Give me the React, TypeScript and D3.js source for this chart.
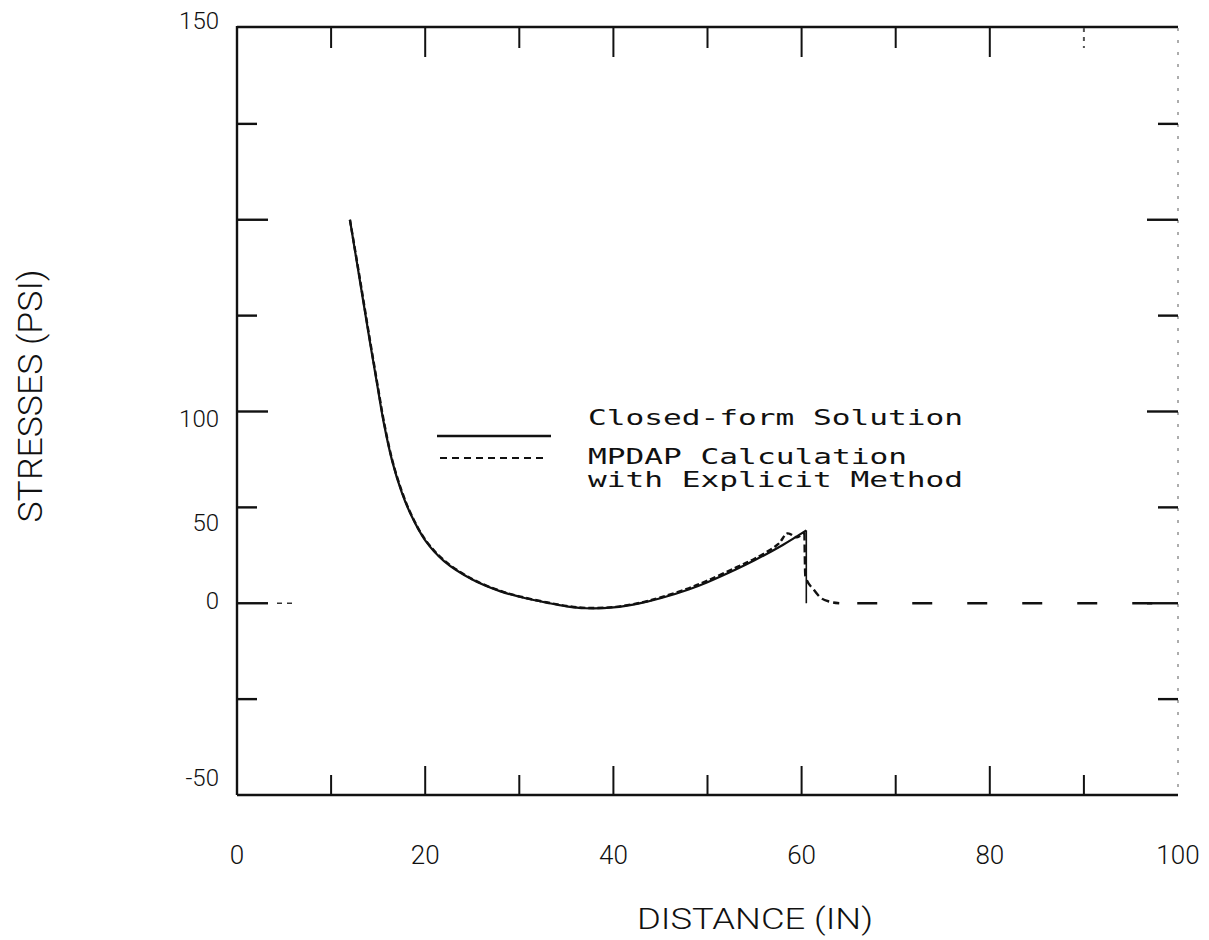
import React from "react";
import * as d3 from "d3";

// ---- data ----
const closedX = [12, 13, 14, 15, 15.6, 16.5, 17.5, 18.5, 20, 22, 25, 28, 30, 33, 35, 37, 40, 43, 45, 48, 50, 53, 55, 58, 60.5];
const closedY = [100, 85, 70, 55.5, 47, 37, 29, 23, 16.4, 11, 6.2, 3.1, 1.7, 0.1, -0.8, -1.3, -1.1, 0.1, 1.3, 3.6, 5.5, 8.8, 11.2, 15.2, 19];
const closedDropX = [60.5, 60.5];
const closedDropY = [19, 0];

const mpdapX = [12, 13, 14, 15, 15.6, 16.5, 17.5, 18.5, 20, 22, 25, 28, 30, 33, 35, 37, 40, 43, 45, 48, 50, 53, 55, 57.5, 58.5, 59.5, 60.3];
const mpdapY = [100, 85.5, 70.5, 56, 47.5, 37.3, 29.3, 23.2, 16.6, 11.2, 6.3, 3.2, 1.8, 0.2, -0.7, -1.2, -1.0, 0.2, 1.5, 3.9, 5.9, 9.3, 11.6, 15.4, 18.2, 17.2, 18.5];
const mpdapDropX = [60.3, 60.4, 61.3, 62, 63, 64];
const mpdapDropY = [18.5, 7, 3.5, 1.5, 0.4, 0];
const mpdapTailX = [64, 100];
const mpdapTailY = [0, 0];

const leftZeroX = [0, 6.2];
const leftZeroY = [0, 0];

const xTickValues = [0, 10, 20, 30, 40, 50, 60, 70, 80, 90, 100];
const xTickLabels = [0, 20, 40, 60, 80, 100];
const yTickValues = [-50, -25, 0, 25, 50, 75, 100, 125, 150];
const yTickLabels = [150, 100, 50, 0, -50];
// where the scanned labels actually sit (in data units of the y scale)
const yTickLabelAt = [152, 48.2, 21, 0.8, -45.5];

const legendItems = ["Closed-form Solution", "MPDAP Calculation", "with Explicit Method"];

const W = 1209, H = 940;
const M = { left: 237, right: 1178, top: 28, bottom: 795 };

export default function App() {
  const x = d3.scaleLinear().domain([0, 100]).range([M.left, M.right]);
  const y = d3.scaleLinear().domain([-50, 150]).range([M.bottom, M.top]);

  const mk = (xs: number[], ys: number[], curve: d3.CurveFactory = d3.curveLinear) =>
    d3.line<number>().curve(curve).x((d) => x(d)).y((_, i) => y(ys[i]))(xs) || "";

  const smooth = d3.curveCatmullRom.alpha(0.5);
  const closedPath = mk(closedX, closedY, smooth);
  const closedDrop = mk(closedDropX, closedDropY);
  const mpdapPath = mk(mpdapX, mpdapY, smooth);
  const mpdapDrop = mk(mpdapDropX, mpdapDropY, d3.curveMonotoneX);
  const mpdapTail = mk(mpdapTailX, mpdapTailY);
  const leftZero = mk(leftZeroX, leftZeroY);

  const font = "Roboto, 'DejaVu Sans', sans-serif";
  const mono = "'DejaVu Sans Mono', 'Liberation Mono', monospace";
  const ink = "#111";

  const isMajorX = (v: number) => v % 20 === 0;
  const isMajorY = (v: number) => v % 50 === 0;

  return (
    <svg width={W} height={H} style={{ display: "block", position: "absolute", left: 0, top: 0, background: "#fff" }}>
      <rect x={0} y={0} width={W} height={H} fill="#fff" />
      {/* frame */}
      <line x1={x(0)} x2={x(100)} y1={y(150) - 1} y2={y(150) - 1} stroke={ink} strokeWidth={2.6} />
      <line x1={x(0)} x2={x(0)} y1={y(150) - 2} y2={y(-50)} stroke={ink} strokeWidth={2.4} />
      <line x1={x(0)} x2={x(100)} y1={y(-50)} y2={y(-50)} stroke={ink} strokeWidth={2.6} />
      <line x1={x(100)} x2={x(100)} y1={y(150)} y2={y(-50)} stroke="#999" strokeWidth={1.6} strokeDasharray="3 9" />

      {/* x ticks */}
      {xTickValues.map((v) => {
        const L = isMajorX(v) ? 29 : 20;
        if (v === 0 || v === 100) return null;
        const faint = v === 90;
        return (
          <g key={"xt" + v}>
            <line x1={x(v)} x2={x(v)} y1={y(150)} y2={y(150) + L} stroke={faint ? "#555" : ink} strokeWidth={2} strokeDasharray={faint ? "4 5" : undefined} />
            <line x1={x(v)} x2={x(v)} y1={y(-50)} y2={y(-50) - L} stroke={ink} strokeWidth={2} />
          </g>
        );
      })}
      {/* y ticks */}
      {yTickValues.map((v) => {
        if (v === 150 || v === -50) return null;
        const L = isMajorY(v) ? 31 : 20;
        return (
          <g key={"yt" + v}>
            <line x1={x(0)} x2={x(0) + L} y1={y(v)} y2={y(v)} stroke={ink} strokeWidth={2.4} />
            <line x1={x(100)} x2={x(100) - L} y1={y(v)} y2={y(v)} stroke={ink} strokeWidth={2.4} />
          </g>
        );
      })}

      {/* tick labels */}
      {xTickLabels.map((v) => (
        <text key={"xl" + v} x={x(v)} y={864} textAnchor="middle" fontFamily={font} fontWeight={300} fontSize={26} fill={ink}>
          {v}
        </text>
      ))}
      {yTickLabels.map((v, i) => (
        <text key={"yl" + v} x={219} y={y(yTickLabelAt[i])} dy="0.35em" textAnchor="end" fontFamily={font} fontWeight={300} fontSize={24} fill={ink}>
          {v}
        </text>
      ))}

      {/* axis titles */}
      <text x={755} y={929} textAnchor="middle" fontFamily={font} fontWeight={300} fontSize={30} fill={ink} textLength={236} lengthAdjust="spacingAndGlyphs">
        DISTANCE (IN)
      </text>
      <text transform={`translate(42,${396}) rotate(-90)`} textAnchor="middle" fontFamily={font} fontWeight={300} fontSize={34} fill={ink} textLength={253} lengthAdjust="spacingAndGlyphs">
        STRESSES (PSI)
      </text>

      {/* curves */}
      <path d={leftZero} fill="none" stroke="#333" strokeWidth={1.5} strokeDasharray="0 40 5 5 5 20" />
      <path d={mpdapPath} fill="none" stroke={ink} strokeWidth={2.4} strokeDasharray="6 3" />
      <path d={mpdapDrop} fill="none" stroke={ink} strokeWidth={2.4} strokeDasharray="8 4" />
      <path d={mpdapTail} fill="none" stroke={ink} strokeWidth={2.6} strokeDasharray="0 18 20 17" />
      <path d={closedPath} fill="none" stroke={ink} strokeWidth={2.2} />
      <path d={closedDrop} fill="none" stroke={ink} strokeWidth={1.6} />

      {/* legend */}
      <line x1={437} x2={551} y1={436} y2={436} stroke={ink} strokeWidth={2.6} />
      <line x1={440} x2={546} y1={458} y2={458} stroke={ink} strokeWidth={2} strokeDasharray="7 5" />
      <text x={588} y={425} fontFamily={mono} fontSize={21} fill={ink} textLength={375} lengthAdjust="spacingAndGlyphs">{legendItems[0]}</text>
      <text x={588} y={464} fontFamily={mono} fontSize={21} fill={ink} textLength={319} lengthAdjust="spacingAndGlyphs">{legendItems[1]}</text>
      <text x={588} y={487} fontFamily={mono} fontSize={21} fill={ink} textLength={375} lengthAdjust="spacingAndGlyphs">{legendItems[2]}</text>
    </svg>
  );
}
